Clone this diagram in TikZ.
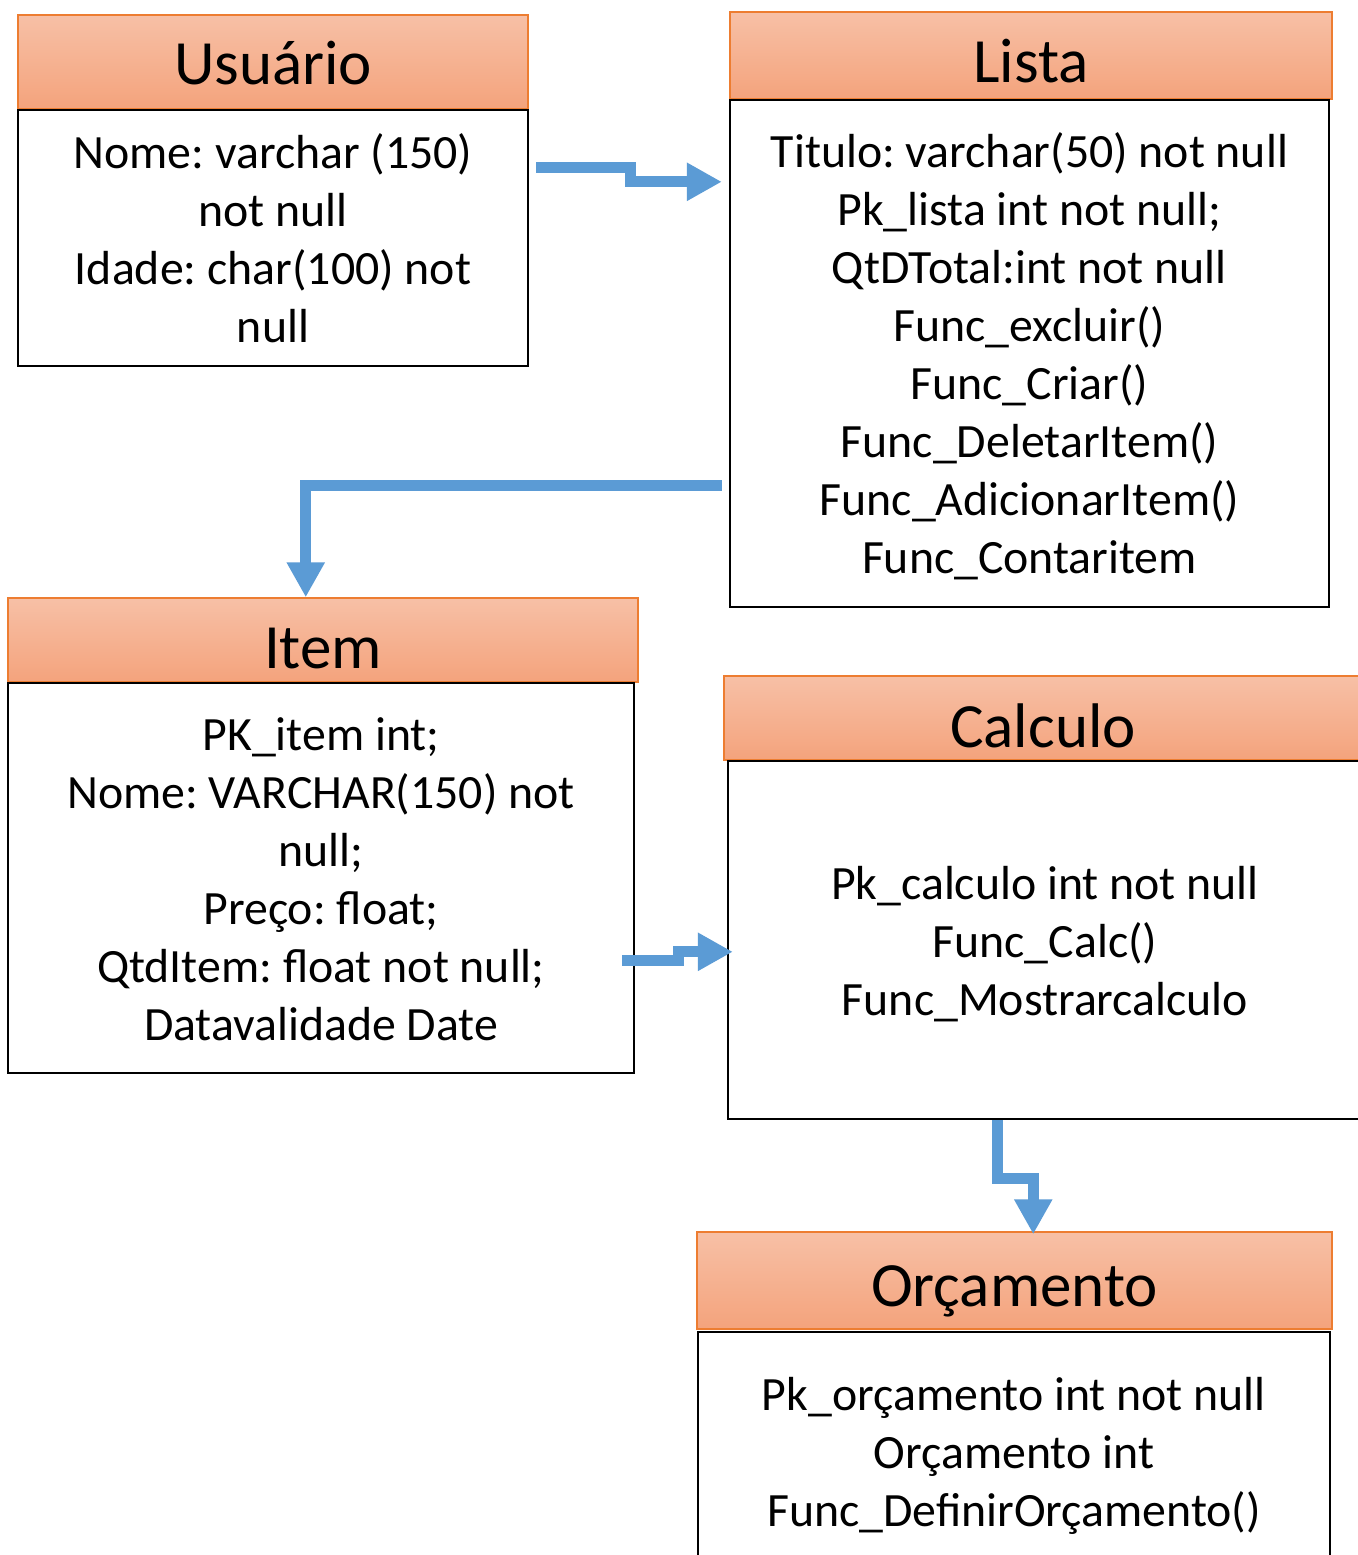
\documentclass[tikz,border=0pt]{standalone}
\usepackage{fontspec}
\setmainfont{Carlito}
\usetikzlibrary{arrows.meta,calc}
\definecolor{hdtop}{HTML}{F7C0A6}
\definecolor{hdbot}{HTML}{F4A37C}
\definecolor{hdline}{HTML}{ED7D31}
\definecolor{connblue}{HTML}{5B9BD5}
\newcommand{\bodyfont}{\fontsize{23.9pt}{29pt}\selectfont}
\newcommand{\titlefont}{\fontsize{31.5pt}{38pt}\selectfont}
\newcommand{\rs}{\rule[-5.8pt]{0pt}{29pt}}
\frenchspacing
\begin{document}
\begin{tikzpicture}[x=0.5pt,y=-0.5pt,
  sz/.style 2 args={minimum width=#1*0.5pt,minimum height=#2*0.5pt},
  hdr/.style={draw=hdline,line width=0.75pt,top color=hdtop,bottom color=hdbot,
    inner sep=0pt,font=\titlefont,text height=26pt,text depth=0pt},
  bdy/.style={draw=black,line width=1.2pt,fill=white,inner sep=0pt,align=center,font=\bodyfont},
  link/.style={draw=connblue,line width=5.5pt,-{Triangle[width=18pt,length=17.5pt]}}
]
\fill[white] (0,0) rectangle (1358,1555);
\useasboundingbox (0,0) rectangle (1358,1555);

% Usuario
\node[hdr,sz={510}{94},text height=22.2pt] (uh) at (273,62) {Usuário};
\node[bdy,sz={510}{256}] (ub) at (273,238) {\rs Nome: varchar (150)\\\rs not null\\\rs Idade: char(100) not\\\rs null};

% Lista
\node[hdr,sz={602}{87},text height=26.7pt] (lh) at (1031,55.5) {Lista};
\node[bdy,sz={599}{507}] (lb) at (1029.5,353.5) {\rs Titulo: varchar(50) not null\\\rs Pk\_lista int not null;\\\rs QtDTotal:int not null\\\rs Func\_excluir()\\\rs Func\_Criar()\\\rs Func\_DeletarItem()\\\rs Func\_AdicionarItem()\\\rs Func\_Contaritem};

% Item
\node[hdr,sz={630}{84},text height=28.7pt] (ih) at (323,640) {Item};
\node[bdy,sz={626}{390}] (ib) at (321,878) {\rs PK\_item int;\\\rs Nome: VARCHAR(150) not\\\rs null;\\\rs Preço: float;\\\rs QtdItem: float not null;\\\rs Datavalidade Date};

% Calculo
\node[hdr,sz={638}{84},text height=29pt] (ch) at (1043,718) {Calculo};
\node[bdy,sz={634}{358}] (cb) at (1045,940) {\rs Pk\_calculo int not null\\\rs Func\_Calc()\\\rs Func\_Mostrarcalculo};

% Orcamento
\node[hdr,sz={635}{97},text height=25.7pt] (oh) at (1014.5,1280.5) {Orçamento};
\node[bdy,sz={632}{238}] (ob) at (1014,1451) {\rs Pk\_orçamento int not null\\\rs Orçamento int\\\rs Func\_DefinirOrçamento()};

% connectors
\draw[link] ($(ub.north east)+(7,59)$) -- ++(94,0) |- ($(lb.north west)+(-7,83)$);
\draw[link] ($(lb.north west)+(-7,387)$) -| ($(ih.north west)+(298.5,0)$);
\draw[link] ($(ib.north east)+(-13,279)$) -- ++(56,0) |- ($(cb.north west)+(6,192)$);
\draw[link] ($(cb.south west)+(271,0)$) -- ++(0,58) -| ($(oh.north west)+(337,3)$);
\end{tikzpicture}
\end{document}
